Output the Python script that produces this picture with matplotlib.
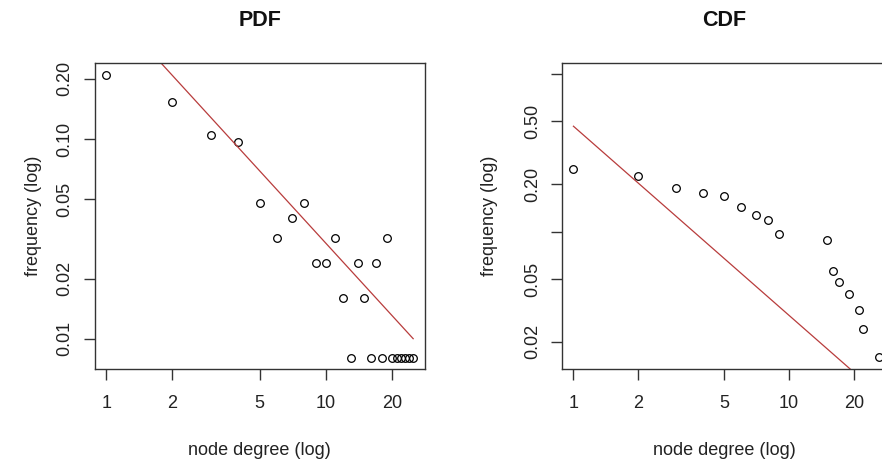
import matplotlib
matplotlib.use("Agg")
import matplotlib.pyplot as plt

plt.rcParams['font.family'] = ['Liberation Sans', 'DejaVu Sans']

# ---- data ----
pdf_degree = [1, 2, 3, 4, 5, 6, 7, 8, 9, 10, 11, 12, 13, 14, 15, 16, 17, 18, 19,
              20, 21, 22, 23, 24, 25]
pdf_freq = [0.210, 0.153, 0.105, 0.097, 0.048, 0.032, 0.040, 0.048, 0.024, 0.024,
            0.032, 0.016, 0.008, 0.024, 0.016, 0.008, 0.024, 0.008, 0.032,
            0.008, 0.008, 0.008, 0.008, 0.008, 0.008]
pdf_fit_x = [1, 25]
pdf_fit_y = [0.479, 0.0100]

cdf_degree = [1, 2, 3, 4, 5, 6, 7, 8, 9, 15, 16, 17, 19, 21, 22, 26]
cdf_freq = [0.248, 0.225, 0.190, 0.175, 0.169, 0.143, 0.127, 0.119, 0.096,
            0.088, 0.056, 0.048, 0.040, 0.032, 0.024, 0.016]
cdf_fit_x = [1, 25]
cdf_fit_y = [0.465, 0.0098]

x_ticks = [1, 2, 5, 10, 20]
x_ticklabels = ['1', '2', '5', '10', '20']
pdf_yticks = [0.01, 0.02, 0.05, 0.10, 0.20]
pdf_yticklabels = ['0.01', '0.02', '0.05', '0.10', '0.20']
cdf_yticks = [0.02, 0.05, 0.10, 0.20, 0.50, 1.00]
cdf_yticklabels = ['0.02', '0.05', '', '0.20', '0.50', '']

W, H = 882, 461
fig = plt.figure(figsize=(W / 100, H / 100), dpi=100)

top, bottom = 63, 369
def pos(x0, x1):
    return [x0 / W, 1 - bottom / H, (x1 - x0) / W, (bottom - top) / H]

ax1 = fig.add_axes(pos(94.5, 425))
ax2 = fig.add_axes(pos(562, 886.5))

line_col = '#b83c3c'
axis_col = '#333333'
fs = 13

def style(ax, title, yticks, ylabels, ylim, ylab_x):
    ax.set_xscale('log')
    ax.set_yscale('log')
    ax.set_xlim(0.885, 28.3)
    ax.set_ylim(*ylim)
    ax.minorticks_off()
    ax.set_xticks(x_ticks)
    ax.set_xticklabels(x_ticklabels)
    ax.set_yticks(yticks)
    ax.set_yticklabels(ylabels, rotation=90, va='center', ha='right')
    ax.tick_params(axis='both', which='major', direction='out', length=8, width=1,
                   color=axis_col, labelsize=fs, labelcolor='#222222')
    ax.tick_params(axis='x', pad=11)
    ax.tick_params(axis='y', pad=7)
    for s in ax.spines.values():
        s.set_color(axis_col)
        s.set_linewidth(1)
    ax.set_xlabel('node degree (log)', fontsize=fs, color='#222222')
    ax.set_ylabel('frequency (log)', fontsize=fs, color='#222222')
    ax.xaxis.set_label_coords(0.5, -0.265)
    ax.yaxis.set_label_coords(ylab_x, 0.5)
    ax.xaxis.label.set_va('center')
    ax.yaxis.label.set_va('center')
    ax.text(0.5, 1.14, title, transform=ax.transAxes, ha='center', va='center',
            fontsize=15.5, fontweight='bold', color='#111111')

ax1.plot(pdf_degree, pdf_freq, 'o', mfc='none', mec='black', ms=5.5, mew=0.9, clip_on=False)
ax1.plot(pdf_fit_x, pdf_fit_y, '-', color=line_col, lw=0.9)
style(ax1, 'PDF', pdf_yticks, pdf_yticklabels, (0.00705, 0.240), -0.186)

ax2.plot(cdf_degree, cdf_freq, 'o', mfc='none', mec='black', ms=5.5, mew=0.9)
ax2.plot(cdf_fit_x, cdf_fit_y, '-', color=line_col, lw=0.9)
style(ax2, 'CDF', cdf_yticks, cdf_yticklabels, (0.01345, 1.17), -0.222)

fig.savefig('out.png', dpi=100)
